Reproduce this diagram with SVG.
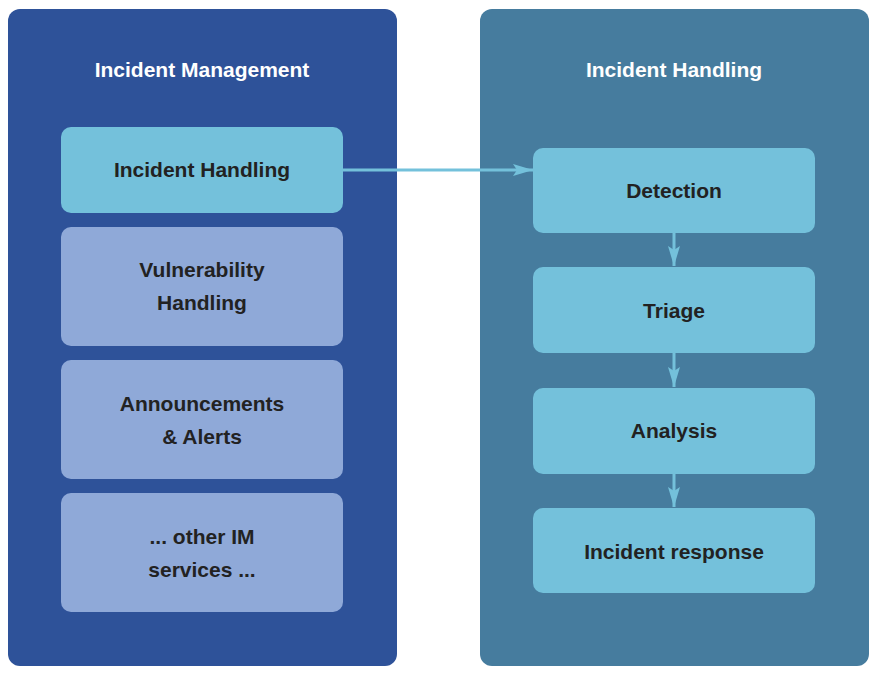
<svg xmlns="http://www.w3.org/2000/svg" width="890" height="681" viewBox="0 0 890 681">
<style>
.panelL{fill:#2e5299}
.panelR{fill:#467c9e}
.lb{fill:#74c1db}
.lv{fill:#8fa9d8}
text{font-family:"Liberation Sans",Arial,sans-serif;font-weight:bold;font-size:21px;text-anchor:middle}
.t{fill:#222222}
.w{fill:#ffffff}
.conn{stroke:#74c1db;stroke-width:3;fill:none}
</style>
<defs>
<marker id="ah2" viewBox="0 0 20 12" refX="20" refY="6" markerWidth="20" markerHeight="12" orient="auto" markerUnits="userSpaceOnUse">
<path d="M0,0 L20,6 L0,12 L4,6 z" fill="#74c1db"/>
</marker>
</defs>
<rect width="890" height="681" fill="#ffffff"/>
<g id="panel-im">
<rect class="panelL" x="8" y="9" width="389" height="657" rx="12"/>
<text class="w" x="202" y="77">Incident Management</text>
</g>
<g id="panel-ih">
<rect class="panelR" x="480" y="9" width="389" height="657" rx="12"/>
<text class="w" x="674" y="77">Incident Handling</text>
</g>
<g id="node-ih">
<rect class="lb" x="61" y="127" width="282" height="86" rx="10"/>
<text class="t" x="202" y="177">Incident Handling</text>
</g>
<g id="node-vuln">
<rect class="lv" x="61" y="227" width="282" height="119" rx="10"/>
<text class="t" x="202" y="277">Vulnerability</text>
<text class="t" x="202" y="310">Handling</text>
</g>
<g id="node-ann">
<rect class="lv" x="61" y="360" width="282" height="119" rx="10"/>
<text class="t" x="202" y="411">Announcements</text>
<text class="t" x="202" y="444">&amp; Alerts</text>
</g>
<g id="node-other">
<rect class="lv" x="61" y="493" width="282" height="119" rx="10"/>
<text class="t" x="202" y="544">... other IM</text>
<text class="t" x="202" y="577">services ...</text>
</g>
<g id="node-det">
<rect class="lb" x="533" y="148" width="282" height="85" rx="10"/>
<text class="t" x="674" y="198">Detection</text>
</g>
<g id="node-tri">
<rect class="lb" x="533" y="267" width="282" height="86" rx="10"/>
<text class="t" x="674" y="318">Triage</text>
</g>
<g id="node-ana">
<rect class="lb" x="533" y="388" width="282" height="86" rx="10"/>
<text class="t" x="674" y="438">Analysis</text>
</g>
<g id="node-resp">
<rect class="lb" x="533" y="508" width="282" height="85" rx="10"/>
<text class="t" x="674" y="559">Incident response</text>
</g>
<g id="connectors">
<line class="conn" x1="343" y1="170" x2="533" y2="170" marker-end="url(#ah2)"/>
<line class="conn" x1="674" y1="233" x2="674" y2="266" marker-end="url(#ah2)"/>
<line class="conn" x1="674" y1="353" x2="674" y2="387" marker-end="url(#ah2)"/>
<line class="conn" x1="674" y1="474" x2="674" y2="507" marker-end="url(#ah2)"/>
</g>
</svg>
